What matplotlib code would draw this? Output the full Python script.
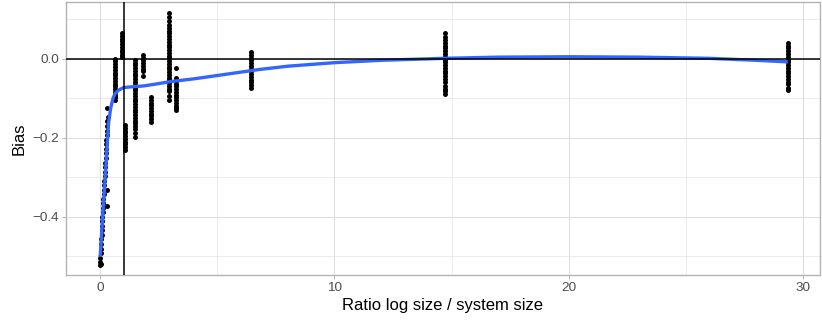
import numpy as np
import matplotlib
matplotlib.use("Agg")
import matplotlib.pyplot as plt
from matplotlib.ticker import FuncFormatter

plt.rcParams['font.family'] = ['Liberation Sans', 'DejaVu Sans']

# points: near-zero diagonal band
near0_x = [0.00, 0.01, 0.02, 0.03, 0.04, 0.05, 0.06, 0.07, 0.08, 0.09, 0.10,
           0.11, 0.12, 0.13, 0.14, 0.15, 0.16, 0.17, 0.18, 0.19, 0.20, 0.21,
           0.22, 0.23, 0.24, 0.25, 0.26, 0.27, 0.28, 0.29, 0.30, 0.31, 0.32,
           0.00, 0.02, 0.28, 0.29, 0.30]
near0_y = [-0.516, -0.504, -0.493, -0.481, -0.470, -0.458, -0.447, -0.435,
           -0.424, -0.412, -0.401, -0.389, -0.378, -0.366, -0.355, -0.343,
           -0.332, -0.320, -0.309, -0.297, -0.286, -0.274, -0.263, -0.251,
           -0.240, -0.228, -0.217, -0.205, -0.194, -0.182, -0.171, -0.159,
           -0.148, -0.522, -0.520, -0.333, -0.374, -0.125]

# vertical columns of points: ratio value -> bias values
col_x = [0.64, 0.94, 1.08, 1.48, 1.84, 2.15, 2.93, 3.23, 6.43, 14.72, 29.35]
col_y = [
    [0.000, -0.007, -0.014, -0.021, -0.028, -0.035, -0.042, -0.049, -0.056,
     -0.063, -0.070, -0.077, -0.084, -0.091, -0.098, -0.105],
    [0.065, 0.058, 0.051, 0.044, 0.037, 0.030, 0.023, 0.016, 0.009, 0.004],
    [-0.168, -0.175, -0.182, -0.189, -0.196, -0.203, -0.210, -0.217, -0.224,
     -0.231],
    [-0.003, -0.010, -0.017, -0.024, -0.031, -0.038, -0.045, -0.052, -0.059,
     -0.066, -0.073, -0.080, -0.087, -0.094, -0.101, -0.108, -0.115, -0.122,
     -0.129, -0.136, -0.143, -0.150, -0.157, -0.164, -0.171, -0.178, -0.188,
     -0.198],
    [0.010, 0.003, -0.004, -0.011, -0.018, -0.025, -0.032, -0.044],
    [-0.097, -0.104, -0.111, -0.118, -0.125, -0.132, -0.139, -0.146, -0.153,
     -0.160],
    [0.116, 0.106, 0.096, 0.085, 0.078, 0.071, 0.064, 0.057, 0.050, 0.043,
     0.036, 0.029, 0.022, 0.015, 0.008, 0.001, -0.006, -0.013, -0.020, -0.027,
     -0.034, -0.041, -0.048, -0.055, -0.062, -0.069, -0.076, -0.083, -0.094,
     -0.104],
    [-0.024, -0.049, -0.056, -0.063, -0.070, -0.077, -0.084, -0.091, -0.098,
     -0.105, -0.112, -0.119, -0.126, -0.130],
    [0.017, 0.010, 0.003, -0.004, -0.011, -0.018, -0.025, -0.032, -0.039,
     -0.046, -0.053, -0.060, -0.067, -0.074],
    [0.064, 0.054, 0.047, 0.040, 0.033, 0.026, 0.019, 0.012, 0.005, -0.002,
     -0.009, -0.016, -0.023, -0.030, -0.037, -0.044, -0.051, -0.058, -0.068,
     -0.076, -0.083, -0.090],
    [0.040, 0.033, 0.026, 0.019, 0.012, 0.005, -0.002, -0.009, -0.016, -0.023,
     -0.030, -0.037, -0.044, -0.051, -0.058, -0.065, -0.073, -0.080],
]

# smooth (loess) curve
smooth_x = [0.0, 0.1, 0.2, 0.3, 0.36, 0.45, 0.55, 0.64, 0.78, 1.0, 1.4, 1.85,
            2.4, 3.0, 4.0, 4.83, 6.0, 6.83, 8.0, 10.0, 12.0, 14.7, 17.0, 20.0,
            23.0, 26.0, 28.0, 29.35]
smooth_y = [-0.502, -0.408, -0.314, -0.22, -0.163, -0.125, -0.100, -0.088,
            -0.080, -0.073, -0.071, -0.069, -0.064, -0.058, -0.051, -0.044,
            -0.034, -0.027, -0.019, -0.010, -0.004, 0.001, 0.004, 0.005,
            0.004, 0.001, -0.004, -0.008]

fig = plt.figure(figsize=(8.22, 3.2), dpi=100)
ax = fig.add_axes([65.7 / 822, 45 / 320, 753.8 / 822, 273 / 320])

pts_x = list(near0_x)
pts_y = list(near0_y)
for x, ys in zip(col_x, col_y):
    pts_x += [x] * len(ys)
    pts_y += ys

ax.plot(pts_x, pts_y, 'o', color='black', ms=3.6, mew=0, zorder=3)
ax.plot(smooth_x, smooth_y, color='#3366FF', lw=2.4, zorder=4,
        solid_capstyle='butt')
ax.axhline(0, color='black', lw=1.1, zorder=5)
ax.axvline(1, color='black', lw=1.1, zorder=5)

ax.set_xlim(-1.47, 30.7)
ax.set_ylim(-0.548, 0.1437)
ax.set_xticks([0, 10, 20, 30])
ax.set_xticks([5, 15, 25], minor=True)
ax.set_yticks([-0.4, -0.2, 0.0])
ax.set_yticks([-0.5, -0.3, -0.1, 0.1], minor=True)
ax.yaxis.set_major_formatter(FuncFormatter(lambda v, p: f"{v:.1f}".replace('-', '\u2212')))

ax.grid(which='major', color='#DEDEDE', lw=0.75)
ax.grid(which='minor', color='#DEDEDE', lw=0.4)
ax.set_axisbelow(True)
for s in ax.spines.values():
    s.set_color('#B3B3B3')
    s.set_linewidth(1.0)
ax.tick_params(which='major', length=2.75, width=0.7, color='#B3B3B3',
               labelcolor='#4D4D4D', labelsize=9.7, pad=2)
ax.tick_params(which='minor', length=0)

ax.set_xlabel('Ratio log size / system size', fontsize=12, labelpad=3)
ax.set_ylabel('Bias', fontsize=12, labelpad=4)

fig.savefig('out.png', dpi=100)
